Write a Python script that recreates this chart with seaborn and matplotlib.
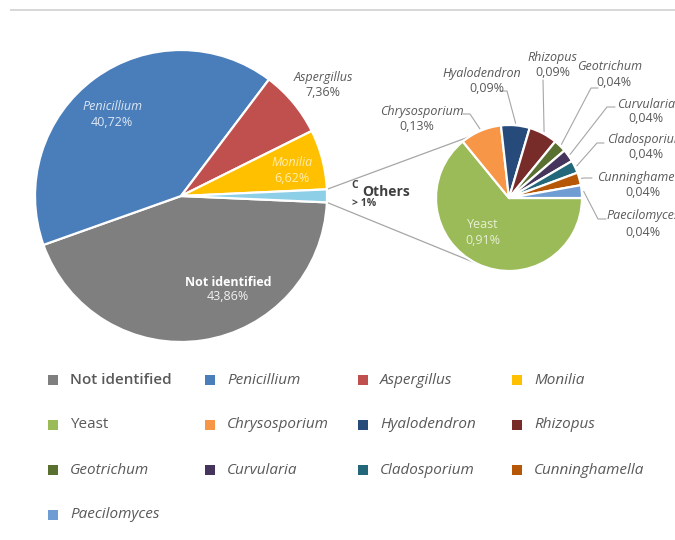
import matplotlib
matplotlib.use("Agg")
import matplotlib.pyplot as plt
import seaborn as sns
import numpy as np
from matplotlib.patches import Rectangle

# ---------------- data ----------------
main_labels = ["Not identified", "Penicillium", "Aspergillus", "Monilia", "Others"]
main_values = [43.86, 40.72, 7.36, 6.62, 1.42]
main_colors = ["#7F7F7F", "#4A7EBB", "#C0504D", "#FFC000", "#8DCFE6"]

other_labels = ["Yeast", "Chrysosporium", "Hyalodendron", "Rhizopus", "Geotrichum",
                "Curvularia", "Cladosporium", "Cunninghamella", "Paecilomyces"]
other_values = [0.91, 0.13, 0.09, 0.09, 0.04, 0.04, 0.04, 0.04, 0.04]
other_colors = ["#9BBB59", "#F79646", "#264A7A", "#772C2A", "#5A7030",
                "#45355C", "#23687A", "#B65708", "#6F9CD2"]

legend_labels = main_labels[:4] + other_labels
legend_colors = main_colors[:4] + other_colors


def pct(v):
    return f"{v:.2f}".replace(".", ",") + "%"


# ---------------- style ----------------
sns.set_theme(style="white")
plt.rcParams["font.family"] = ["Open Sans", "DejaVu Sans"]

W, H = 675, 540
fig = plt.figure(figsize=(W / 100, H / 100), dpi=100)
ax = fig.add_axes([0, 0, 1, 1])


def Y(y):
    return H - y


# main pie
wedges1, _ = ax.pie(main_values, colors=main_colors, startangle=-2.5, counterclock=False,
                    center=(181, Y(196)), radius=146, normalize=True,
                    wedgeprops=dict(edgecolor="white", linewidth=1.6))
# secondary pie
wedges2, _ = ax.pie(other_values, colors=other_colors, startangle=0, counterclock=False,
                    center=(509, Y(198)), radius=73, normalize=True,
                    wedgeprops=dict(edgecolor="white", linewidth=1.6))

ax.set_xlim(0, W)
ax.set_ylim(0, H)
ax.set_aspect("equal")
ax.axis("off")

# top rule
ax.plot([10, W], [Y(9.5), Y(9.5)], color="#D4D4D4", lw=1.3, solid_capstyle="butt")

# connectors between pies
wo = wedges1[4]
c1 = np.array(wo.center)
r1 = wo.r
c2 = np.array(wedges2[0].center)
r2 = wedges2[0].r


def pol(c, r, a):
    a = np.deg2rad(a)
    return c + r * np.array([np.cos(a), np.sin(a)])


p_top = pol(c1, r1, wo.theta2)
p_bot = pol(c1, r1, wo.theta1)
q_top = pol(c2, r2, 123)
q_bot = pol(c2, r2, -116)
ax.plot([p_top[0], q_top[0]], [p_top[1], q_top[1]], color="#A6A6A6", lw=0.9, zorder=0)
ax.plot([p_bot[0], q_bot[0]], [p_bot[1], q_bot[1]], color="#A6A6A6", lw=0.9, zorder=0)

# main pie labels
fs = 9
ax.text(112, Y(107), main_labels[1], color="#DDE7F4", fontsize=fs, style="italic",
        ha="center", va="center")
ax.text(112, Y(123), pct(main_values[1]), color="#DDE7F4", fontsize=fs, ha="center", va="center")
ax.text(323, Y(77), main_labels[2], color="#595959", fontsize=fs, style="italic",
        ha="center", va="center")
ax.text(323, Y(93), pct(main_values[2]), color="#595959", fontsize=fs, ha="center", va="center")
ax.text(292, Y(163), main_labels[3], color="#FFEDB0", fontsize=fs, style="italic",
        ha="center", va="center")
ax.text(292, Y(178), pct(main_values[3]), color="#FFEDB0", fontsize=fs, ha="center", va="center")
ax.text(228, Y(282), main_labels[0], color="white", fontsize=fs, fontweight="bold",
        ha="center", va="center")
ax.text(228, Y(297), pct(main_values[0]), color="#F2F2F2", fontsize=fs, ha="center", va="center")

# Others label
ax.text(354.5, Y(186), "C", color="#404040", fontsize=7.5, fontweight="bold", ha="center", va="center")
ax.text(362, Y(192), main_labels[4], color="#404040", fontsize=10, fontweight="bold",
        ha="left", va="center")
ax.text(352, Y(204), "> 1%", color="#404040", fontsize=7.5, fontweight="bold", ha="left", va="center")

# secondary labels
ax.text(483, Y(225), other_labels[0], color="#E6EFD2", fontsize=fs, ha="center", va="center")
ax.text(483, Y(241), pct(other_values[0]), color="#E6EFD2", fontsize=fs, ha="center", va="center")

sec_pos = {  # name center, pct center, leader elbow, leader end (image px)
    1: ((422, 111), (417, 126), (470, 114), (463, 114)),
    2: ((482, 73), (487, 88), (507, 91), (500, 91)),
    3: ((552, 58), (553, 73), (543, 80), (543, 80)),
    4: ((610, 67), (614, 82), (591, 88), (598, 88)),
    5: ((646, 104), (646, 119), (607, 107), (615, 107)),
    6: ((646, 140), (646, 155), (597, 143), (604, 143)),
    7: ((643, 177), (643, 192), (585, 178), (592, 178)),
    8: ((643, 216), (643, 233), (598, 219), (606, 219)),
}
for i, (npos, ppos, elbow, end) in sec_pos.items():
    ax.text(npos[0], Y(npos[1]), other_labels[i], color="#595959", fontsize=fs,
            style="italic", ha="center", va="center")
    ax.text(ppos[0], Y(ppos[1]), pct(other_values[i]), color="#595959", fontsize=fs,
            ha="center", va="center")
    w = wedges2[i]
    s = pol(c2, r2 + 2, (w.theta1 + w.theta2) / 2)
    ax.plot([s[0], elbow[0], end[0]], [s[1], Y(elbow[1]), Y(end[1])],
            color="#A6A6A6", lw=0.8, zorder=0)

# legend (manual grid, 4 columns)
col_x = [48, 205, 358, 512]
row_y = [380, 425, 470, 515]
for k, (lab, col) in enumerate(zip(legend_labels, legend_colors)):
    r, c = divmod(k, 4)
    x0, y0 = col_x[c], row_y[r]
    ax.add_patch(Rectangle((x0, Y(y0) - 5), 10, 10, facecolor=col, edgecolor="none"))
    kw = {}
    if lab == "Not identified":
        kw["fontweight"] = "semibold"
    elif lab != "Yeast":
        kw["style"] = "italic"
    ax.text(x0 + 22, Y(y0), lab, color="#595959", fontsize=11, ha="left", va="center", **kw)

fig.savefig("out.png", dpi=100)
